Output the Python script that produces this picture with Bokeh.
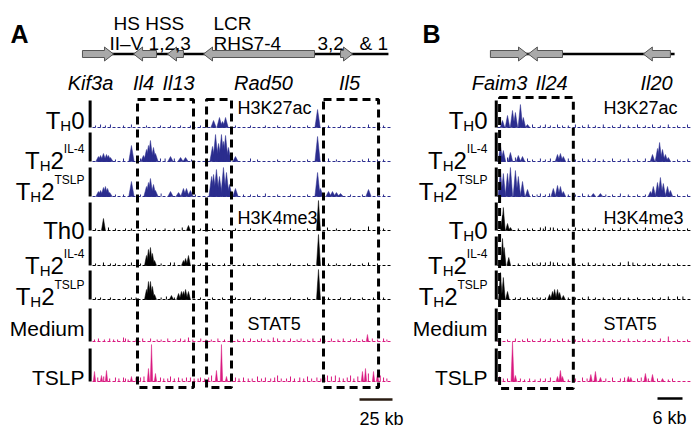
from bokeh.plotting import figure
from bokeh.models import Range1d
from bokeh.embed import file_html
from bokeh.resources import INLINE
from bokeh.core.properties import value

FONT = "Liberation Sans"
BLUE = "#2b2d8e"
PINK = "#d9187f"
BLACK = "#000000"

# ---------------- data: panel A (Th2 cytokine locus, kb) ----------------
a_gene_names = ["Kif3a", "Il4", "Il13", "Rad50", "Il5"]
a_gene_start = [-7.6, 31.1, 56.8, 84.1, 187.9]
a_gene_end = [15.9, 48.5, 68.9, 168.2, 197.0]
a_gene_strand = [1, -1, -1, -1, 1]
a_locus = [-7.6, 224.2]
a_box_left = [34.1, 86.4, 175.0]
a_box_right = [76.5, 105.3, 216.7]
a_track_len = 225.8
a_scalebar_kb = 25

# H3K27ac
a1_pos = [91.7, 96.2, 98.5, 100.8, 170.5]
a1_val = [7, 10, 6, 10, 18]
a1_npos = [2.3, 6.1, 9.8, 13.6, 23.5, 29.5, 40.9, 51.5, 59.1, 66.7, 74.2, 81.8, 108.3, 119.7, 131, 140.2, 150, 162.9, 178.8, 187.9, 195.5, 209.1, 215.9, 220.5]
a1_nval = [2, 3, 2, 3, 2, 3, 2, 2, 2, 2, 2, 2, 2, 2, 2, 2, 2, 2, 2, 2, 2, 3, 2, 2]

a2_pos = [4.5, 6.1, 8.3, 10.6, 12.1, 13.6, 29.5, 38.6, 40.9, 42.4, 43.9, 46.2, 47.7, 59.1, 66.7, 70.5, 90.9, 93.2, 95.5, 97.7, 99.2, 100.8, 103.0, 108.3, 170.5]
a2_val = [5, 6, 8, 7, 6, 4, 16, 6, 12, 16, 21, 14, 8, 5, 4, 4, 15, 27, 18, 27, 20, 26, 14, 5, 25]
a2_npos = [17.4, 23.5, 36.4, 51.5, 55, 62, 75, 119.7, 125, 140.2, 150, 162.9, 178.8, 184.8, 195.5, 204.5, 209.1, 215.9, 220.5]
a2_nval = [2, 3, 3, 3, 3, 3, 2, 3, 2, 2, 2, 2, 3, 2, 2, 2, 3, 2, 2]

a3_pos = [4.5, 6.1, 8.3, 9.8, 11.4, 13.0, 29.5, 40.9, 42.4, 43.9, 46.2, 47.7, 59.1, 65.2, 68.9, 71.2, 74.2, 90.2, 91.7, 93.9, 96.2, 99.2, 101.5, 103.8, 108.3, 170.5, 172.7, 178.8, 181.8, 184.8, 187.9, 209.1]
a3_val = [5, 6, 9, 10, 8, 4, 15, 10, 14, 18, 12, 6, 5, 4, 8, 8, 6, 20, 22, 27, 20, 29, 24, 12, 8, 24, 8, 5, 5, 4, 3, 7]
a3_npos = [17.4, 23.5, 36.4, 52, 78, 114.4, 119.7, 125, 131, 140.2, 150, 162.9, 195.5, 204.5, 215.9, 220.5]
a3_nval = [2, 2, 2, 3, 2, 2, 2, 2, 3, 2, 2, 2, 2, 2, 2, 2]

# H3K4me3
a4_pos = [8.3, 72.7, 171.2]
a4_val = [12, 5, 30]
a4_npos = [2.3, 12.1, 17.4, 25, 29.5, 40.9, 47.7, 55, 62, 68, 81.8, 90.9, 98.5, 108.3, 119.7, 131, 140.2, 150, 162.9, 178, 184.8, 195.5, 209.1, 215.9, 220.5]
a4_nval = [2, 3, 2, 2, 2, 2, 2, 2, 2, 3, 2, 2, 2, 2, 2, 2, 2, 2, 2, 3, 2, 2, 4, 2, 2]

a5_pos = [40.9, 42.4, 43.9, 45.4, 47.0, 68.9, 70.5, 72.7, 171.2]
a5_val = [10, 16, 18, 12, 5, 5, 7, 10, 31]
a5_npos = [2.3, 8.3, 13.6, 17.4, 25, 29.5, 36.4, 52, 59.1, 62, 81.8, 90.9, 100, 114.4, 125, 140.2, 150, 162.9, 178.8, 184.8, 195.5, 204.5, 209.1, 215.9]
a5_nval = [2, 3, 2, 2, 2, 3, 2, 2, 3, 3, 2, 2, 2, 2, 2, 2, 2, 2, 2, 2, 2, 2, 3, 2]

a6_pos = [40.9, 42.4, 43.9, 45.4, 47.0, 59.8, 65.2, 67.4, 68.9, 70.5, 72.7, 171.2]
a6_val = [10, 18, 18, 13, 5, 4, 6, 8, 8, 10, 8, 30]
a6_npos = [2.3, 6.1, 13.6, 25, 29.5, 33, 52, 56, 62, 81.8, 90.9, 98.5, 108.3, 119.7, 131, 150, 162.9, 178.8, 187.9, 195.5, 204.5, 212.9, 220.5]
a6_nval = [2, 2, 2, 2, 2, 2, 2, 3, 2, 2, 2, 2, 2, 2, 2, 2, 2, 2, 2, 2, 2, 2, 2]

# STAT5
a7_pos = [208.3]
a7_val = [7]
a7_npos = [1.5, 4.5, 9, 13, 16, 19, 23.5, 25, 27, 33, 38, 44, 49, 52, 57, 63, 66.7, 70, 72.7, 76, 82, 86, 90, 95, 100, 104.5, 110, 114.4, 119.7, 125, 128, 133, 137, 140.2, 145, 150, 155, 158, 163, 167, 172.7, 176, 181, 186, 190, 195.5, 200, 204.5, 212, 216, 220.5, 223]
a7_nval = [2, 3, 2, 3, 2, 2, 4, 3, 2, 2, 3, 3, 2, 2, 3, 2, 3, 2, 4, 2, 3, 2, 2, 3, 2, 5, 2, 3, 3, 2, 3, 2, 4, 3, 2, 3, 2, 3, 2, 3, 3, 2, 3, 2, 3, 2, 3, 2, 3, 2, 3, 2]

a8_pos = [1.5, 6.8, 10.6, 29.5, 42.4, 44.7, 47.7, 93.9, 97.7, 101.5, 204.5, 206.8, 212.9, 215.9]
a8_val = [10, 6, 11, 5, 13, 37, 8, 11, 37, 5, 10, 13, 10, 8]
a8_npos = [4, 8.5, 13, 17.4, 20, 23.5, 25, 27, 33, 36.4, 39, 51.5, 54, 57, 59.1, 62, 65.2, 68, 71.2, 74.2, 77, 80, 81.8, 85, 88, 90.2, 104.5, 108.3, 111, 114.4, 118, 121, 125, 128, 131, 135, 138, 140.2, 143, 147, 150, 153, 157, 160, 162.9, 166, 170, 173, 176, 178, 181, 184, 187, 190, 193, 195.5, 198, 201, 209, 218, 220.5, 223]
a8_nval = [4, 5, 3, 4, 3, 4, 3, 2, 4, 4, 5, 4, 3, 3, 5, 3, 4, 3, 4, 4, 3, 3, 4, 3, 4, 6, 4, 4, 3, 4, 3, 3, 5, 3, 4, 3, 4, 6, 3, 3, 5, 3, 4, 3, 5, 3, 4, 3, 4, 6, 5, 6, 4, 3, 4, 6, 3, 5, 8, 6, 4, 3]

# ---------------- data: panel B (Il24 locus, kb) ----------------
b_gene_names = ["Faim3", "Il24", "Il20"]
b_gene_start = [-1.7, 7.4, 35.0]
b_gene_end = [7.2, 15.6, 41.5]
b_gene_strand = [1, -1, -1]
b_locus = [-1.7, 42.5]
b_box_left = [0.5]
b_box_right = [18.2]
b_track_len = 46.3
b_scalebar_kb = 6

b1_pos = [1.2, 2.4, 3.6, 4.3, 5.5, 6.2, 7.2]
b1_val = [7, 12, 17, 15, 23, 10, 3]
b1_npos = [8.4, 10.3, 11.5, 12.7, 14.4, 15.6, 17, 18.7, 20.4, 21.8, 23.5, 25.4, 27.6, 29.5, 31.4, 33.6, 35.5, 37.2, 39.1, 41, 43.2, 45.6]
b1_nval = [3, 2, 3, 2, 3, 2, 2, 3, 2, 3, 2, 3, 2, 3, 2, 3, 2, 3, 2, 3, 2, 3]

b2_pos = [0.7, 1.4, 3.1, 5.0, 6.0, 14.4, 15.1, 15.8, 37.2, 38.4, 38.9, 39.6, 40.3, 41.0]
b2_val = [16, 11, 9, 6, 5, 7, 8, 5, 7, 13, 19, 12, 7, 4]
b2_npos = [2.4, 4.3, 7.2, 8.4, 10.3, 11.5, 12.7, 17, 18.7, 20.4, 21.8, 23.5, 25.4, 27.6, 29.5, 31.4, 33.6, 35.5, 43.2, 45.6]
b2_nval = [4, 4, 3, 2, 3, 2, 3, 3, 2, 3, 2, 3, 2, 3, 2, 3, 2, 3, 2, 2]

b3_pos = [0.7, 1.4, 2.4, 3.1, 4.3, 5.0, 6.0, 7.2, 13.4, 14.4, 15.1, 15.8, 23.0, 24.7, 36.7, 37.4, 38.4, 39.1, 39.8, 40.8, 41.5]
b3_val = [26, 23, 23, 29, 26, 20, 15, 7, 8, 11, 10, 5, 3, 3, 5, 10, 14, 19, 13, 10, 6]
b3_npos = [8.4, 9.5, 10.3, 11.5, 12.5, 17, 18.7, 20.4, 21.8, 26, 27.6, 29.5, 31.4, 33.6, 35.5, 43.2, 45.6]
b3_nval = [2, 2, 3, 2, 3, 2, 2, 3, 2, 2, 2, 3, 2, 2, 2, 2, 2]

b4_pos = [1.2, 1.4, 2.4, 3.1]
b4_val = [15, 23, 7, 3]
b4_npos = [5, 7.2, 8.4, 10.3, 11, 11.5, 12.7, 13.4, 14.4, 15.6, 17, 18.7, 20.4, 21.8, 23.5, 25.4, 27.6, 29.5, 31.4, 33.6, 35.5, 37.2, 39.1, 41, 43.2, 45.6]
b4_nval = [2, 2, 2, 3, 2, 4, 3, 3, 2, 2, 2, 3, 2, 2, 3, 2, 2, 3, 2, 2, 3, 2, 2, 3, 2, 2]

b5_pos = [1.2, 1.6, 2.7]
b5_val = [27, 18, 8]
b5_npos = [5, 7.2, 8.4, 9.5, 10.3, 11.5, 12.7, 13.4, 14.4, 15.6, 17, 18.7, 20.4, 21.8, 23.5, 25.4, 27.6, 29.5, 31.4, 32.5, 33.6, 35.5, 37.2, 39.1, 41, 43.2]
b5_nval = [2, 2, 3, 2, 3, 3, 4, 3, 3, 2, 2, 2, 2, 3, 2, 2, 2, 3, 4, 3, 2, 2, 2, 2, 2, 2]

b6_pos = [0.7, 1.4, 2.4, 12.5, 13.2, 13.7, 14.4, 14.9, 15.8]
b6_val = [27, 22, 8, 5, 8, 10, 10, 7, 4]
b6_npos = [4.3, 5.5, 7.2, 8.4, 9.5, 10.3, 11.5, 17, 18.7, 20.4, 21.8, 23.5, 25.4, 27.6, 29.5, 31.4, 33.6, 37.2, 39.1, 41, 43.2, 44.5]
b6_nval = [2, 2, 2, 2, 2, 2, 2, 2, 2, 2, 3, 2, 2, 2, 2, 2, 2, 2, 2, 3, 3, 3]

b7_pos = []
b7_val = []
b7_npos = [0.7, 2.4, 4.3, 6.0, 7.2, 8.4, 10.3, 11.5, 12.7, 14.4, 15.6, 17, 18.7, 20.4, 21.8, 23.5, 25.4, 27.6, 29.5, 31.4, 33.6, 35.5, 37.2, 39.1, 41.0, 43.2, 45.6]
b7_nval = [3, 2, 3, 2, 3, 2, 3, 2, 3, 2, 3, 2, 2, 3, 2, 2, 3, 2, 2, 3, 2, 2, 2, 3, 5, 2, 2]

b8_pos = [0.5, 3.6, 4.3, 14.4, 15.1, 15.6, 22.4, 23.5, 24.7, 31.4, 32.0, 35.5, 37.2, 39.6]
b8_val = [5, 40, 6, 5, 11, 5, 7, 10, 4, 5, 4, 8, 7, 3]
b8_npos = [1.4, 2.4, 5.5, 6.5, 7.7, 9, 10.3, 11.5, 12.7, 17, 18.7, 20.4, 21.5, 26, 27.6, 29.5, 30.5, 33.6, 34.5, 36.2, 38.4, 41, 42]
b8_nval = [3, 3, 3, 2, 3, 2, 3, 3, 4, 2, 3, 4, 3, 3, 4, 3, 4, 3, 4, 3, 3, 2, 3]

# track annotation
track_colors = [BLUE, BLUE, BLUE, BLACK, BLACK, BLACK, PINK, PINK]
track_scale = [27, 29, 29, 28, 29, 29, 33, 33]
mark_names = ["H3K27ac", "H3K4me3", "STAT5"]
a_row_labels = [
    [("T", "main"), ("H", "sub"), ("0", "main")],
    [("T", "main"), ("H", "sub"), ("2", "main"), ("IL-4", "sup")],
    [("T", "main"), ("H", "sub"), ("2", "main"), ("TSLP", "sup")],
    [("Th0", "main")],
    [("T", "main"), ("H", "sub"), ("2", "main"), ("IL-4", "sup")],
    [("T", "main"), ("H", "sub"), ("2", "main"), ("TSLP", "sup")],
    [("Medium", "plain")],
    [("TSLP", "plain")],
]
b_row_labels = [list(r) for r in a_row_labels]
b_row_labels[3] = [("T", "main"), ("H", "sub"), ("0", "main")]

# ---------------- layout (pixels of the page image) ----------------
W, H = 699, 427
PX0, PX1, PY0, PY1 = 0, 699, 0, 427
A_ORIGIN, A_PPK = 92, 33 / 25
B_ORIGIN, B_PPK = 497, 25 / 6
track_base = [127, 161, 196, 230, 265, 299, 341, 381]
label_base = [120, 160, 191, 230, 265, 296, 328, 377]
a_peak_hw = [2.0, 2.0, 2.0, 1.5, 1.5, 1.5, 0.9, 0.9]
b_peak_hw = [0.55, 0.55, 0.55, 0.45, 0.45, 0.45, 0.35, 0.35]

p = figure(width=W, height=H, output_backend="svg", toolbar_location=None,
           x_axis_location=None, y_axis_location=None, min_border=0,
           x_range=Range1d((PX0 - A_ORIGIN) / A_PPK, (PX1 - A_ORIGIN) / A_PPK),
           y_range=Range1d(PY1, PY0))
p.grid.visible = False
p.outline_line_color = None
p.background_fill_color = "white"
p.border_fill_color = "white"
p.extra_x_ranges = {"B": Range1d((PX0 - B_ORIGIN) / B_PPK, (PX1 - B_ORIGIN) / B_PPK),
                    "px": Range1d(PX0, PX1)}
p.extra_y_ranges = {f"t{i}": Range1d(b - PY1, b - PY0) for i, b in enumerate(track_base)}


def txt(x, y, s, size, align="left", style="normal", rng="px"):
    p.text(x=[x], y=[y], text=[s], x_range_name=rng, text_font=value(FONT),
           text_font_size=f"{size}px", text_baseline="alphabetic", text_align=align,
           text_font_style=style, text_color="black")


# panel letters
txt(10, 33, "A", 25, style="bold")
txt(422, 33, "B", 25, style="bold")


def gene_track(rng, locus, starts, ends, strands, hl):
    p.segment(x0=[locus[0]], x1=[locus[1]], y0=[53.5], y1=[53.5], line_color="black",
              line_width=2.5, x_range_name=rng)
    xs, ys = [], []
    for s, e, st in zip(starts, ends, strands):
        if st > 0:
            xs.append([s, e - hl, e - hl, e, e - hl, e - hl, s])
        else:
            xs.append([e, s + hl, s + hl, s, s + hl, s + hl, e])
        ys.append([50, 50, 46.5, 53.5, 60.5, 57, 57])
    p.patches(xs, ys, fill_color="#a9a9a9", line_color="#555555", line_width=1,
              x_range_name=rng)


gene_track("default", a_locus, a_gene_start, a_gene_end, a_gene_strand, 9 / A_PPK)
gene_track("B", b_locus, b_gene_start, b_gene_end, b_gene_strand, 9 / B_PPK)

# gene names and regulatory element annotations
a_name_x = [90, 143, 178, 263, 349]
b_name_x = [499, 551, 656]
for nm, x in zip(a_gene_names, a_name_x):
    txt(x, 82, nm, 20, align="center", style="italic")
for nm, x in zip(b_gene_names, b_name_x):
    txt(x, 82, nm, 20, align="center", style="italic")
txt(113, 23, "HS HSS", 19)
txt(109, 43, "II\u2013V 1,2,3", 19)
txt(213, 23, "LCR", 19)
txt(213, 43, "RHS7-4", 19)
txt(317, 43, "3,2", 19)
txt(359, 43, "& 1", 19)

# signal tracks
A_tracks = [(a1_pos, a1_val, a1_npos, a1_nval), (a2_pos, a2_val, a2_npos, a2_nval),
            (a3_pos, a3_val, a3_npos, a3_nval), (a4_pos, a4_val, a4_npos, a4_nval),
            (a5_pos, a5_val, a5_npos, a5_nval), (a6_pos, a6_val, a6_npos, a6_nval),
            (a7_pos, a7_val, a7_npos, a7_nval), (a8_pos, a8_val, a8_npos, a8_nval)]
B_tracks = [(b1_pos, b1_val, b1_npos, b1_nval), (b2_pos, b2_val, b2_npos, b2_nval),
            (b3_pos, b3_val, b3_npos, b3_nval), (b4_pos, b4_val, b4_npos, b4_nval),
            (b5_pos, b5_val, b5_npos, b5_nval), (b6_pos, b6_val, b6_npos, b6_nval),
            (b7_pos, b7_val, b7_npos, b7_nval), (b8_pos, b8_val, b8_npos, b8_nval)]


def draw_tracks(rng, tracks, hws, length, bar_x):
    for i, (pos, val, npos, nval) in enumerate(tracks):
        c = track_colors[i]
        yr = f"t{i}"
        hw = hws[i]
        p.segment(x0=[0], x1=[length], y0=[0], y1=[0], line_color=c, line_width=1,
                  line_dash="3 2", x_range_name=rng, y_range_name=yr)
        if npos:
            p.segment(x0=npos, x1=npos, y0=[0] * len(npos), y1=nval, line_color=c,
                      line_width=1, x_range_name=rng, y_range_name=yr)
        if pos:
            p.patches([[x - hw, x, x + hw] for x in pos], [[0, v, 0] for v in val],
                      fill_color=c, line_color=c, line_width=0.5,
                      x_range_name=rng, y_range_name=yr)
        p.segment(x0=[bar_x], x1=[bar_x], y0=[0], y1=[track_scale[i]], line_color="black",
                  line_width=3, x_range_name=rng, y_range_name=yr)


draw_tracks("default", A_tracks, a_peak_hw, a_track_len, -1.8)
draw_tracks("B", B_tracks, b_peak_hw, b_track_len, -0.3)

# dashed boxes
p.quad(left=a_box_left, right=a_box_right, top=[99] * 3, bottom=[387] * 3,
       fill_color=None, line_color="black", line_width=3, line_dash="8 5")
p.quad(left=b_box_left, right=b_box_right, top=[97], bottom=[388], x_range_name="B",
       fill_color=None, line_color="black", line_width=3, line_dash="8 5")

# mark names
txt(237, 107, mark_names[0], 18)
txt(237, 217, mark_names[1], 18)
txt(247, 323, mark_names[2], 18)
txt(603, 107, mark_names[0], 18)
txt(603, 217, mark_names[1], 18)
txt(603, 323, mark_names[2], 18)

# scale bars
a_sb0 = (359 - A_ORIGIN) / A_PPK
b_sb0 = (657 - B_ORIGIN) / B_PPK
p.segment(x0=[a_sb0], x1=[a_sb0 + a_scalebar_kb], y0=[399], y1=[399], line_color="#2a1c12",
          line_width=2.5)
p.segment(x0=[b_sb0], x1=[b_sb0 + b_scalebar_kb], y0=[398], y1=[398], x_range_name="B",
          line_color="black", line_width=2.5)
txt(359, 418, f"{a_scalebar_kb} kb", 18)
txt(652, 417, f"{b_scalebar_kb} kb", 18)

# row labels composed from pieces (right aligned)
CW = {"T": .611, "H": .722, "0": .556, "2": .556, "I": .278, "L": .556, "-": .333, "4": .556,
      "S": .667, "P": .667, "h": .556, "M": .833, "e": .556, "d": .556, "i": .222, "u": .556,
      "m": .833}
SIZE = {"main": 24, "sub": 15, "sup": 12, "plain": 21}
DY = {"main": 0, "sub": 5, "sup": -12, "plain": 0}


def comp_label(right, base, parts):
    cur = right
    for t, kind in reversed(parts):
        size = SIZE[kind]
        left = cur - sum(CW.get(c, .556) for c in t) * size
        txt(left, base + DY[kind], t, size)
        cur = left


for parts, b in zip(a_row_labels, label_base):
    comp_label(84, b, parts)
for parts, b in zip(b_row_labels, label_base):
    comp_label(487, b, parts)

open("out.html", "w").write(file_html(p, INLINE))
